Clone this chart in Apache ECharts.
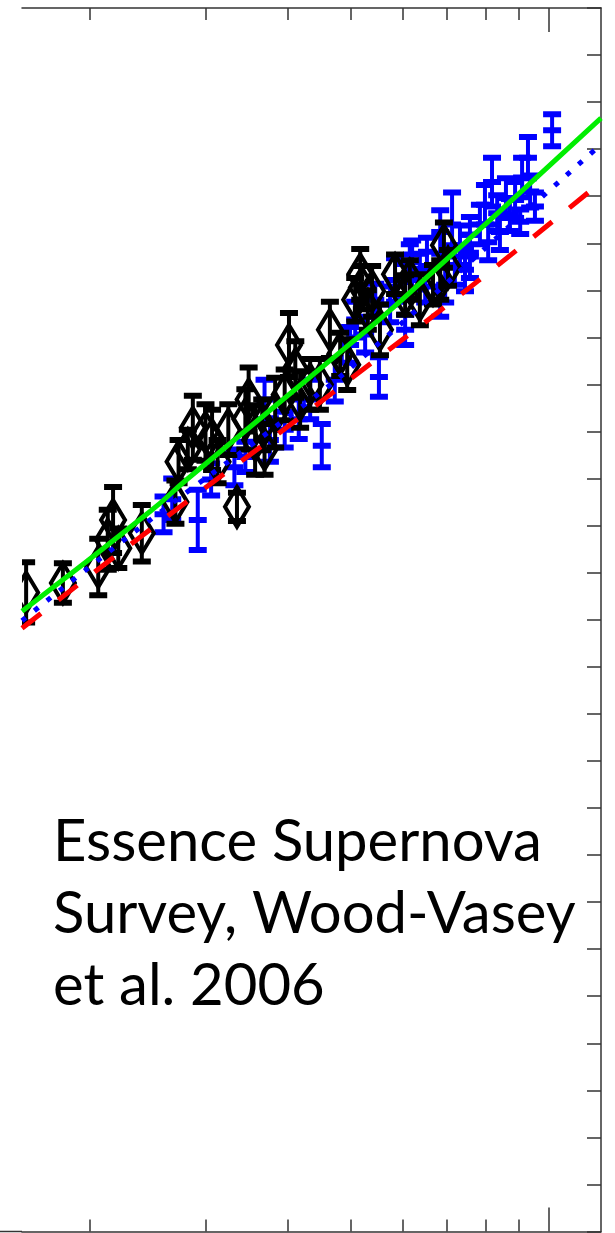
<!DOCTYPE html>
<html>
<head>
<meta charset="utf-8">
<script src="https://cdn.jsdelivr.net/npm/echarts@6/dist/echarts.min.js"></script>
<style>
  html, body { margin: 0; padding: 0; background: #fff; }
  #chart { width: 615px; height: 1233px; }
</style>
</head>
<body>
<div id="chart"></div>
<script>
// Redshift range of the plotted window and distance-modulus range
const zRange = [0.1577, 1.2];
const muRange = [33, 46];
const muTickStep = 0.5;

// Redshift tick marks (minor and decade)
const zMinorTicks = [0.2, 0.3, 0.4, 0.5, 0.6, 0.7, 0.8, 0.9];
const zMajorTicks = [1.0];

// ESSENCE supernovae (blue): redshift, distance modulus, 1-sigma error
const essenceZ = [1.011, 0.929, 0.910, 0.936, 0.888, 0.952, 0.904, 0.819, 0.799, 0.834,
  0.785, 0.842, 0.808, 0.860, 0.712, 0.683, 0.732, 0.758, 0.719, 0.745,
  0.614, 0.636, 0.648, 0.604, 0.583, 0.619, 0.652, 0.551, 0.604, 0.683,
  0.525, 0.498, 0.472, 0.451, 0.433, 0.416, 0.369, 0.376, 0.345, 0.332,
  0.292, 0.267, 0.259, 0.306, 0.396, 0.507, 0.573, 0.758, 0.872, 0.695, 0.544];
const essenceMu = [44.70, 44.41, 44.20, 44.05, 43.96, 43.89, 43.73, 44.15, 43.91, 43.82,
  43.70, 43.62, 43.51, 43.98, 43.70, 43.62, 43.48, 43.36, 43.27, 43.22,
  43.30, 43.20, 43.04, 43.09, 43.11, 43.38, 43.41, 42.08, 42.58, 42.88,
  42.53, 42.42, 42.05, 41.35, 41.84, 41.63, 41.84, 41.41, 41.23, 41.12,
  40.56, 40.78, 40.62, 40.99, 41.52, 42.69, 42.85, 43.59, 43.80, 43.06, 42.90];
const essenceErr = [0.17, 0.22, 0.21, 0.17, 0.19, 0.15, 0.13, 0.26, 0.21, 0.19,
  0.21, 0.19, 0.19, 0.21, 0.34, 0.23, 0.21, 0.23, 0.21, 0.23,
  0.19, 0.19, 0.17, 0.19, 0.23, 0.15, 0.15, 0.21, 0.16, 0.16,
  0.19, 0.19, 0.23, 0.23, 0.21, 0.21, 0.21, 0.23, 0.16, 0.19,
  0.32, 0.22, 0.19, 0.17, 0.19, 0.19, 0.19, 0.19, 0.17, 0.19, 0.17];

// Other supernovae (black diamonds): redshift, distance modulus, 1-sigma error
const otherZ = [0.160, 0.182, 0.206, 0.217, 0.213, 0.221, 0.240, 0.270, 0.273, 0.287,
  0.300, 0.307, 0.313, 0.335, 0.345, 0.349, 0.357, 0.366, 0.383, 0.396,
  0.402, 0.411, 0.418, 0.433, 0.464, 0.481, 0.493, 0.507, 0.519, 0.530,
  0.538, 0.553, 0.604, 0.636, 0.666, 0.692, 0.683, 0.702, 0.583, 0.516,
  0.614, 0.448, 0.369, 0.325, 0.282];
const otherMu = [39.79, 39.89, 40.06, 40.56, 40.35, 40.26, 40.42, 40.75, 41.18, 41.54,
  41.49, 41.41, 41.18, 40.70, 41.63, 41.84, 41.41, 41.57, 41.70, 41.89,
  42.42, 42.16, 41.84, 42.00, 42.58, 42.32, 42.21, 42.90, 43.03, 42.79,
  42.99, 42.58, 42.95, 42.90, 43.06, 43.48, 43.11, 43.24, 43.17, 43.17,
  43.11, 42.00, 41.31, 41.52, 41.31];
const otherErr = [0.32, 0.21, 0.30, 0.35, 0.32, 0.21, 0.30, 0.23, 0.23, 0.34,
  0.30, 0.32, 0.23, 0.15, 0.32, 0.34, 0.37, 0.27, 0.37, 0.27,
  0.34, 0.30, 0.30, 0.27, 0.30, 0.23, 0.27, 0.23, 0.23, 0.21,
  0.27, 0.27, 0.21, 0.27, 0.21, 0.24, 0.21, 0.19, 0.21, 0.27,
  0.21, 0.27, 0.27, 0.27, 0.21];

// Cosmological model curves
const solidCurveZ = [0.1577, 0.247, 0.281, 0.486, 0.593, 1.2];
const solidCurveMu = [39.59, 40.65, 40.99, 42.37, 42.88, 44.83];
const dottedCurveZ = [0.1577, 0.247, 0.418, 0.521, 0.997, 1.2];
const dottedCurveMu = [39.49, 40.56, 41.75, 42.29, 44.05, 44.55];
const dashedCurveZ = [0.1577, 0.265, 0.418, 0.544, 0.664, 0.913, 1.2];
const dashedCurveMu = [39.41, 40.62, 41.65, 42.26, 42.72, 43.48, 44.15];

// Caption
const captionLines = ['Essence Supernova', 'Survey, Wood-Vasey', 'et al. 2006'];

const lg = Math.log10;
const frameColor = '#333';

function pointRows(zs, mus, errs) {
  return zs.map((z, i) => [lg(z), mus[i], errs[i]]);
}
function curveRows(zs, mus) {
  return zs.map((z, i) => [lg(z), mus[i]]);
}

function errorBarRenderer(color, diamond) {
  return function (params, api) {
    const xv = api.value(0), yv = api.value(1), e = api.value(2);
    const c = api.coord([xv, yv]);
    const hi = api.coord([xv, yv + e]);
    const lo = api.coord([xv, yv - e]);
    const capHalf = 9;
    const children = [
      { type: 'line', shape: { x1: c[0], y1: hi[1], x2: c[0], y2: lo[1] },
        style: { stroke: color, lineWidth: 4 } },
      { type: 'line', shape: { x1: c[0] - capHalf, y1: hi[1], x2: c[0] + capHalf, y2: hi[1] },
        style: { stroke: color, lineWidth: 6 } },
      { type: 'line', shape: { x1: c[0] - capHalf, y1: lo[1], x2: c[0] + capHalf, y2: lo[1] },
        style: { stroke: color, lineWidth: 6 } }
    ];
    if (diamond) {
      children.push({ type: 'polygon',
        shape: { points: [[c[0], c[1] - 20], [c[0] + 12, c[1]], [c[0], c[1] + 20], [c[0] - 12, c[1]]] },
        style: { fill: 'none', stroke: color, lineWidth: 4, lineJoin: 'miter' } });
    } else {
      children.push({ type: 'line', shape: { x1: c[0] - 9, y1: c[1], x2: c[0] + 9, y2: c[1] },
        style: { stroke: color, lineWidth: 6 } });
    }
    return { type: 'group', children };
  };
}

function zAxis(position, ticks, len, showLine) {
  return {
    type: 'value', position, min: lg(zRange[0]), max: lg(zRange[1]),
    axisLine: { show: showLine, onZero: false, lineStyle: { color: frameColor, width: 1.5 } },
    axisTick: { show: true, inside: true, length: len, customValues: ticks.map(lg),
      lineStyle: { color: frameColor, width: 1.5 } },
    axisLabel: { show: false }, splitLine: { show: false }
  };
}

const chart = echarts.init(document.getElementById('chart'), null, { renderer: 'canvas' });
chart.setOption({
  animation: false,
  backgroundColor: '#fff',
  grid: { left: 22, right: 14, top: 8, bottom: 1.5 },
  xAxis: [
    zAxis('bottom', zMinorTicks, 12, true),
    zAxis('bottom', zMajorTicks, 24, false),
    zAxis('top', zMinorTicks, 12, true),
    zAxis('top', zMajorTicks, 24, false)
  ],
  yAxis: {
    type: 'value', position: 'right', min: muRange[0], max: muRange[1], interval: muTickStep,
    axisLine: { show: true, onZero: false, lineStyle: { color: frameColor, width: 1.5 } },
    axisTick: { show: true, inside: true, length: 14, lineStyle: { color: frameColor, width: 1.5 } },
    axisLabel: { show: false }, splitLine: { show: false }
  },
  series: [
    { type: 'custom', clip: true, renderItem: errorBarRenderer('#0000ff', false),
      data: pointRows(essenceZ, essenceMu, essenceErr), z: 2 },
    { type: 'custom', clip: true, renderItem: errorBarRenderer('#000000', true),
      data: pointRows(otherZ, otherMu, otherErr), z: 3 },
    { type: 'line', data: curveRows(dashedCurveZ, dashedCurveMu), showSymbol: false, smooth: true,
      lineStyle: { color: '#ff0000', width: 5, type: [24, 22] }, z: 4 },
    { type: 'line', data: curveRows(dottedCurveZ, dottedCurveMu), showSymbol: false, smooth: true,
      lineStyle: { color: '#0000ff', width: 5, type: [5, 11] }, z: 4 },
    { type: 'line', data: curveRows(solidCurveZ, solidCurveMu), showSymbol: false, smooth: true,
      lineStyle: { color: '#00ee00', width: 5 }, z: 5 }
  ],
  graphic: [
    { type: 'line', shape: { x1: 0, y1: 1231.5, x2: 22, y2: 1231.5 },
      style: { stroke: frameColor, lineWidth: 1.5 } },
    ...captionLines.map((t, i) => ({
      type: 'text', left: 53, top: 813 + i * 72,
      style: { text: t, font: '400 58px Lato', fill: '#000' }
    }))
  ]
});
</script>
</body>
</html>
